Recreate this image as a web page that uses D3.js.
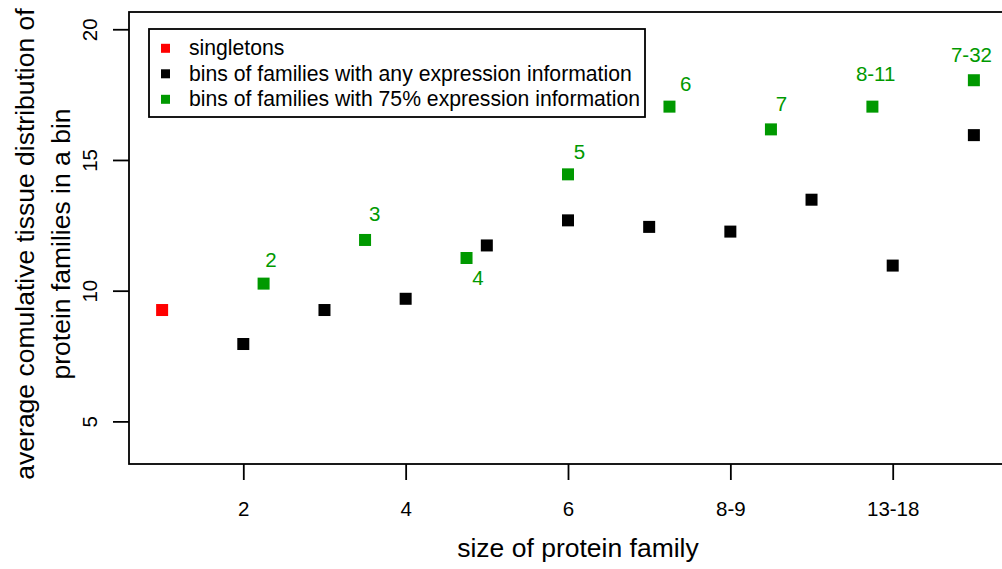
<!DOCTYPE html>
<html>
<head>
<meta charset="utf-8">
<script src="https://cdn.jsdelivr.net/npm/d3@7"></script>
<style>
  body { margin: 0; background: #fff; }
  text { font-family: "Liberation Sans", Arial, sans-serif; }
</style>
</head>
<body>
<div id="chart"></div>
<script>
// family size bins (x positions) and tick labels
const tickPos = [2, 4, 6, 8, 10];
const tickLabels = ["2", "4", "6", "8-9", "13-18"];
const yTicks = [5, 10, 15, 20];

const singletonX = [1];
const singletonY = [9.26];

const anyX = [2, 3, 4, 5, 6, 7, 8, 9, 10, 11];
const anyY = [7.96, 9.26, 9.69, 11.73, 12.69, 12.44, 12.26, 13.48, 10.96, 15.95];

const pctX = [2.25, 3.5, 4.75, 6, 7.25, 8.5, 9.75, 11];
const pctY = [10.27, 11.94, 11.25, 14.45, 17.04, 16.17, 17.04, 18.05];
const pctLabels = ["2", "3", "4", "5", "6", "7", "8-11", "7-32"];
const pctLabelX = [2.34, 3.62, 4.89, 6.14, 7.45, 8.63, 9.79, 10.97];
const pctLabelY = [11.20, 12.93, 10.50, 15.32, 17.91, 17.14, 18.29, 19.02];

const legendItems = [
  { label: "singletons", color: "#ff0000" },
  { label: "bins of families with any expression information", color: "#000000" },
  { label: "bins of families with 75% expression information", color: "#009900" }
];

const W = 1002, H = 569;
const green = "#009900";
const font = "Liberation Sans, Arial, sans-serif";

const svg = d3.select("#chart")
  .append("svg")
  .attr("width", W)
  .attr("height", H);

const x = d3.scaleLinear().domain([0.592, 11.408]).range([129, 1007]);
const y = d3.scaleLinear().domain([3.37, 20.66]).range([464, 12]);

// plot box (right side falls outside the page)
svg.append("rect")
  .attr("x", x.range()[0])
  .attr("y", y.range()[1])
  .attr("width", x.range()[1] - x.range()[0])
  .attr("height", y.range()[0] - y.range()[1])
  .attr("fill", "none")
  .attr("stroke", "#000")
  .attr("stroke-width", 1.8);

// x axis
const xAxis = svg.append("g")
  .attr("transform", `translate(0,${y.range()[0]})`)
  .call(d3.axisBottom(x).tickValues(tickPos)
    .tickFormat((d, i) => tickLabels[i]).tickSize(16).tickPadding(21));
xAxis.select(".domain").remove();
xAxis.selectAll("line").attr("stroke-width", 1.8);
xAxis.selectAll("text").attr("font-size", 20.5).attr("fill", "#000")
  .style("font-family", font);

// y axis
const yAxis = svg.append("g")
  .attr("transform", `translate(${x.range()[0]},0)`)
  .call(d3.axisLeft(y).tickValues(yTicks).tickSize(16).tickPadding(0));
yAxis.select(".domain").remove();
yAxis.selectAll("line").attr("stroke-width", 1.8);
yAxis.selectAll("text")
  .attr("font-size", 20.5).attr("fill", "#000")
  .attr("x", 0).attr("dy", 0)
  .attr("text-anchor", "middle")
  .attr("transform", "translate(-32,0) rotate(-90)")
  .style("font-family", font);

// axis titles
svg.append("text")
  .attr("x", 578).attr("y", 557)
  .attr("text-anchor", "middle")
  .attr("font-size", 26.5)
  .text("size of protein family");

svg.append("text")
  .attr("transform", "translate(34,244) rotate(-90)")
  .attr("text-anchor", "middle")
  .attr("font-size", 26.5)
  .text("average comulative tissue distribution of");

svg.append("text")
  .attr("transform", "translate(70,244) rotate(-90)")
  .attr("text-anchor", "middle")
  .attr("font-size", 26.5)
  .text("protein families in a bin");

// points
const sq = 12;
function squares(xs, ys, color) {
  svg.append("g").selectAll("rect")
    .data(xs.map((d, i) => ({ x: d, y: ys[i] })))
    .enter()
    .append("rect")
    .attr("x", d => x(d.x) - sq / 2)
    .attr("y", d => y(d.y) - sq / 2)
    .attr("width", sq)
    .attr("height", sq)
    .attr("fill", color);
}
squares(singletonX, singletonY, "#ff0000");
squares(anyX, anyY, "#000000");
squares(pctX, pctY, green);

// green point labels
svg.append("g").selectAll("text")
  .data(pctLabels)
  .enter()
  .append("text")
  .attr("x", (d, i) => x(pctLabelX[i]))
  .attr("y", (d, i) => y(pctLabelY[i]) + 7.3)
  .attr("text-anchor", "middle")
  .attr("font-size", 20.5)
  .attr("fill", green)
  .text(d => d);

// legend
const legend = svg.append("g");
legend.append("rect")
  .attr("x", 149).attr("y", 29)
  .attr("width", 496).attr("height", 88)
  .attr("fill", "#fff")
  .attr("stroke", "#000")
  .attr("stroke-width", 1.8);

legendItems.forEach((d, i) => {
  const cy = 48.3 + i * 25.5;
  legend.append("rect")
    .attr("x", 161).attr("y", cy - 4.5)
    .attr("width", 9).attr("height", 9)
    .attr("fill", d.color);
  legend.append("text")
    .attr("x", 189).attr("y", cy + 6.9)
    .attr("font-size", 21.2)
    .text(d.label);
});
</script>
</body>
</html>
